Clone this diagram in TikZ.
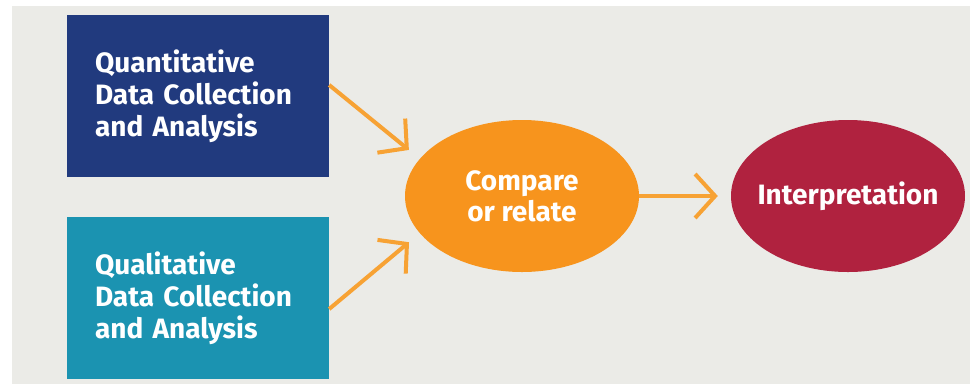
\documentclass[tikz,border=0pt]{standalone}
\usepackage{fontspec}
\setmainfont{Fira Sans}
\usepackage{xcolor}
\usepackage{tikz}
\usetikzlibrary{shapes.geometric,arrows.meta}
\definecolor{quantblue}{HTML}{213A7E}
\definecolor{qualteal}{HTML}{1B93B1}
\definecolor{cmporange}{HTML}{F7941D}
\definecolor{interpred}{HTML}{B0223F}
\definecolor{bggray}{HTML}{EBEBE7}
\definecolor{arrorange}{HTML}{F7A234}

\begin{document}
\begin{tikzpicture}[x=1pt,y=-1pt,
 box/.style={rectangle, minimum width=262pt, minimum height=162pt, text width=206pt, inner xsep=28pt, align=left, text=white, font=\fontsize{28}{32}\selectfont\bfseries},
 oval/.style={ellipse, minimum width=234pt, minimum height=152pt, inner xsep=-30pt, inner ysep=0pt, align=center, text=white, font=\fontsize{28}{31}\selectfont\bfseries},
 arr/.style={draw=arrorange, line width=4pt, -{Straight Barb[length=20pt,width=44pt]}}]
\useasboundingbox (0,0) rectangle (970,384);
\fill[white] (0,0) rectangle (970,384);
\fill[bggray] (12,6) rectangle (970,384);
\node[box, fill=quantblue] (quant) at (198,96) {Quantitative\\Data Collection\\and Analysis};
\node[box, fill=qualteal] (qual) at (198,298) {Qualitative\\Data Collection\\and Analysis};
\node[oval, fill=cmporange] (cmp) at (522,196) {Compare\\or relate};
\node[oval, fill=interpred] (interp) at (848,196) {Interpretation};
\draw[arr, shorten >=14pt] ([yshift=11pt]quant.east) -- (cmp.160);
\draw[arr, shorten >=14pt] ([yshift=-11pt]qual.east) -- (cmp.200);
\draw[arr, shorten >=13pt] (cmp.east) -- (interp.west);
\end{tikzpicture}
\end{document}
